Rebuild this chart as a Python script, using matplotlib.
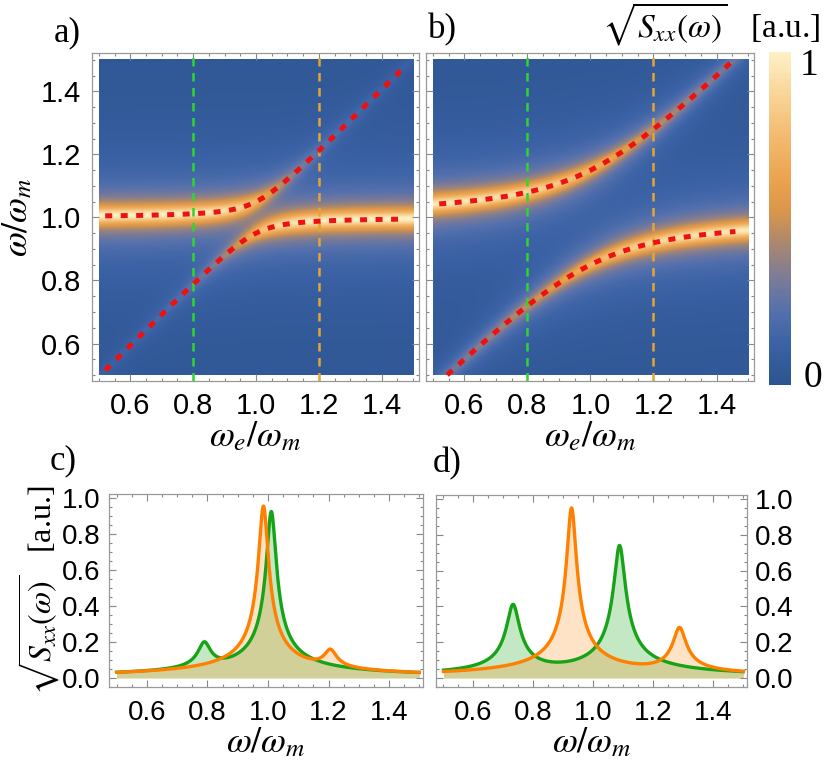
import numpy as np
import matplotlib
matplotlib.use('Agg')
import matplotlib.pyplot as plt
from matplotlib.colors import LinearSegmentedColormap
from matplotlib.ticker import MultipleLocator

plt.rcParams['font.family'] = ['Liberation Sans', 'DejaVu Sans']
plt.rcParams['mathtext.fontset'] = 'stix'

# values
omega_m = 1.0
coupling = [0.05, 0.15]        # half splitting at the crossing, maps a) and b)
map_width = 0.021              # ridge linewidth in the maps
cut_we = [0.8, 1.2]            # dashed cuts -> green / orange spectra
cut_colors = ['#2fd62f', '#e3a535']

# spectra c) and d): peak centre, height, half width
c_green_pos = [0.79, 1.011]
c_green_h = [0.19, 0.925]
c_green_w = [0.021, 0.016]
c_orange_pos = [0.985, 1.206]
c_orange_h = [0.955, 0.145]
c_orange_w = [0.016, 0.021]

d_green_pos = [0.732, 1.087]
d_green_h = [0.41, 0.74]
d_green_w = [0.021, 0.019]
d_orange_pos = [0.927, 1.287]
d_orange_h = [0.95, 0.28]
d_orange_w = [0.016, 0.021]

cmap_stops = [0.0, 0.12, 0.22, 0.32, 0.42, 0.52, 0.60, 0.75, 0.88, 1.0]
cmap_hex = ['#2c5490', '#3a62a5', '#5470ad', '#7b7b97', '#a88770',
            '#d9964c', '#e9a04c', '#f3bb70', '#f9d699', '#fef1c6']
cmap = LinearSegmentedColormap.from_list('mma', list(zip(cmap_stops, cmap_hex)))

green = '#17a317'
orange = '#ff8000'
frame_col = '#999999'
sqrt_label = r'$\sqrt{S_{xx}(\omega)}$   [a.u.]'

W, H = 829, 772
fig = plt.figure(figsize=(W / 100, H / 100), dpi=100)


def box(x0, y0, x1, y1):
    return [x0 / W, 1 - y1 / H, (x1 - x0) / W, (y1 - y0) / H]


def branches(we, g):
    mid = (omega_m + we) / 2
    half = np.sqrt(((we - omega_m) / 2) ** 2 + g ** 2)
    frac = (we - omega_m) / (2 * half)
    return mid + half, mid - half, (1 - frac) / 2, (1 + frac) / 2


def spectrum(w, pos, h, wid):
    s = np.zeros_like(w)
    for c, a, b in zip(pos, h, wid):
        s += (a * b) ** 2 / ((w - c) ** 2 + b ** 2)
    return np.sqrt(s)


def style(ax, size):
    for sp in ax.spines.values():
        sp.set_color(frame_col)
        sp.set_linewidth(0.9)
    ax.xaxis.set_major_locator(MultipleLocator(0.2))
    ax.xaxis.set_minor_locator(MultipleLocator(0.05))
    ax.yaxis.set_major_locator(MultipleLocator(0.2))
    ax.yaxis.set_minor_locator(MultipleLocator(0.05))
    ax.tick_params(which='both', direction='in', top=True, right=True,
                   color='#888888', width=0.8)
    ax.tick_params(which='major', length=5, labelsize=size, pad=8)
    ax.tick_params(which='minor', length=2.5)


# maps a) and b)
we_grid = np.linspace(0.5, 1.5, 400)
om_grid = np.linspace(0.5, 1.5, 400)
WE, OM = np.meshgrid(we_grid, om_grid)
we_line = np.linspace(0.52, 1.46, 300)

map_boxes = [box(92, 53, 419, 381), box(426, 53, 754, 381)]
for k, g in enumerate(coupling):
    ax = fig.add_axes(map_boxes[k])
    up, lo, wu, wl = branches(WE, g)
    L = map_width ** 2
    Z = np.sqrt(wu * L / ((OM - up) ** 2 + L) + wl * L / ((OM - lo) ** 2 + L))
    im = ax.imshow(Z, extent=[0.5, 1.5, 0.5, 1.5], origin='lower', aspect='auto',
                   cmap=cmap, vmin=0, vmax=1, interpolation='bilinear')
    for xc, col in zip(cut_we, cut_colors):
        ax.axvline(xc, color=col, lw=1.8, dashes=(3.4, 2.6))
    lu, ll, _, _ = branches(we_line, g)
    for br in (lu, ll):
        br = np.where((br >= 0.5) & (br <= 1.5), br, np.nan)
        ax.plot(we_line, br, color='#f01010', lw=3.6, dashes=(1.4, 1.7))
    ax.set_xlim(0.478, 1.519)
    ax.set_ylim(0.481, 1.522)
    style(ax, 21)
    ax.set_xlabel(r'$\omega_e/\omega_m$', fontsize=26, labelpad=-1)
    if k == 0:
        ax.set_ylabel(r'$\omega/\omega_m$', fontsize=26, labelpad=4)
    else:
        ax.tick_params(labelleft=False)

# colour bar
cax = fig.add_axes(box(769, 52, 791, 385))
cb = fig.colorbar(im, cax=cax)
cb.outline.set_visible(False)
cb.set_ticks([])
fig.text(809 / W, 1 - 66 / H, '1', family='Liberation Serif', fontsize=27,
         ha='center', va='center')
fig.text(813 / W, 1 - 378 / H, '0', family='Liberation Serif', fontsize=27,
         ha='center', va='center')
fig.text(820 / W, 1 - 37 / H, sqrt_label, family='Liberation Serif',
         fontsize=24, ha='right', va='baseline')

# spectra c) and d)
w = np.linspace(0.5, 1.5, 1200)
spec_sets = [
    (c_green_pos, c_green_h, c_green_w, c_orange_pos, c_orange_h, c_orange_w),
    (d_green_pos, d_green_h, d_green_w, d_orange_pos, d_orange_h, d_orange_w),
]
spec_boxes = [box(109, 494, 423, 687), box(436, 495, 747, 687)]
for k, (gp, gh, gw, op, oh, ow) in enumerate(spec_sets):
    ax = fig.add_axes(spec_boxes[k])
    yg = spectrum(w, gp, gh, gw)
    yo = spectrum(w, op, oh, ow)
    ax.fill_between(w, 0, yg, color=green, alpha=0.25, lw=0)
    ax.fill_between(w, 0, yo, color=orange, alpha=0.22, lw=0)
    ax.plot(w, yg, color=green, lw=2.4)
    ax.plot(w, yo, color=orange, lw=2.4)
    ax.set_xlim(0.475, 1.512)
    ax.set_ylim(-0.05, 1.022)
    style(ax, 20)
    ax.tick_params(which='major', pad=6)
    ax.tick_params(axis='x', which='major', pad=9)
    ax.set_xlabel(r'$\omega/\omega_m$', fontsize=26, labelpad=0)
    if k == 0:
        ax.set_ylabel(sqrt_label, family='Liberation Serif', fontsize=23,
                      labelpad=0)
    else:
        ax.tick_params(labelleft=False, labelright=True)

# panel letters
for txt, x, y in [('a)', 67, 41), ('b)', 442, 38), ('c)', 63, 469), ('d)', 447, 472)]:
    fig.text(x / W, 1 - y / H, txt, family='Liberation Serif', fontsize=25,
             ha='center', va='baseline')

fig.savefig('out.png', dpi=100)
